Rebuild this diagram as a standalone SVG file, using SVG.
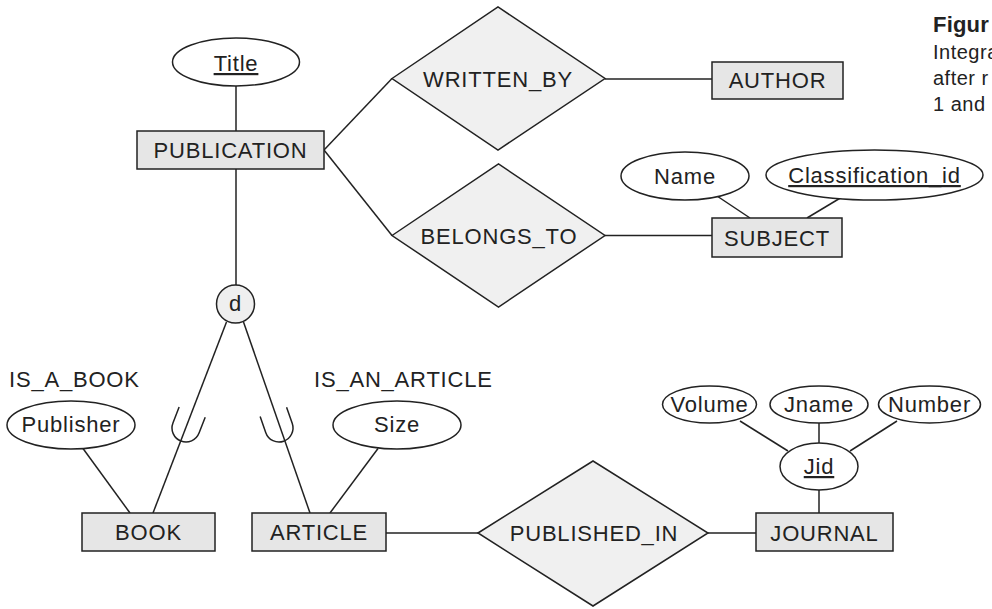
<svg xmlns="http://www.w3.org/2000/svg" width="992" height="609" viewBox="0 0 992 609">
<style>
text{font-family:"Liberation Sans",Arial,sans-serif;font-size:22px;fill:#222;letter-spacing:0.8px}
.c{text-anchor:middle}
.u{text-decoration:underline}
.ent{fill:#e6e6e6;stroke:#222;stroke-width:1.5}
.rel{fill:#f0f0f0;stroke:#222;stroke-width:1.5}
.att{fill:#fff;stroke:#222;stroke-width:1.5}
.ln{stroke:#222;stroke-width:1.5;fill:none}
.cap{font-size:20px;letter-spacing:0.5px}
</style>
<defs>
<path id="subset" d="M -14,-17 L -14,0 A 14 14 0 0 0 14 0 L 14,-17" class="ln"/>
</defs>
<g id="connectors">
<line class="ln" x1="236" y1="86" x2="236" y2="131"/>
<line class="ln" x1="236" y1="169" x2="236" y2="285"/>
<line class="ln" x1="324" y1="150" x2="392" y2="78.5"/>
<line class="ln" x1="324" y1="150" x2="392" y2="235.5"/>
<line class="ln" x1="605" y1="79" x2="712" y2="79"/>
<line class="ln" x1="605" y1="235.5" x2="712" y2="235.5"/>
<line class="ln" x1="717" y1="196" x2="750" y2="218"/>
<line class="ln" x1="842" y1="197" x2="807" y2="218"/>
<line class="ln" x1="226.5" y1="322" x2="153" y2="513"/>
<line class="ln" x1="243.5" y1="322" x2="310" y2="513"/>
<line class="ln" x1="83" y1="448.5" x2="130" y2="513"/>
<line class="ln" x1="378" y1="448.5" x2="330" y2="513"/>
<line class="ln" x1="386" y1="533" x2="478" y2="533"/>
<line class="ln" x1="708" y1="533" x2="756" y2="533"/>
<line class="ln" x1="740" y1="421" x2="788" y2="451"/>
<line class="ln" x1="897" y1="421" x2="850" y2="451"/>
<line class="ln" x1="819" y1="423" x2="819" y2="443"/>
<line class="ln" x1="819" y1="490" x2="819" y2="513"/>
<use href="#subset" transform="translate(186,428) rotate(21.3)"/>
<use href="#subset" transform="translate(279,428) rotate(-19.4)"/>
</g>
<g id="Title"><ellipse class="att" cx="236" cy="62" rx="63.5" ry="24"/><text class="c u" x="236" y="71">Title</text></g>
<g id="PUBLICATION"><rect class="ent" x="137" y="131" width="187" height="38"/><text class="c" x="230.5" y="158">PUBLICATION</text></g>
<g id="WRITTEN_BY"><polygon class="rel" points="392,78.5 498,7 605,78.5 498,150"/><text class="c" x="498" y="87">WRITTEN_BY</text></g>
<g id="AUTHOR"><rect class="ent" x="712" y="62" width="131" height="37"/><text class="c" x="777.5" y="88">AUTHOR</text></g>
<g id="BELONGS_TO"><polygon class="rel" points="392,235.5 498.5,164 605,235.5 498.5,307"/><text class="c" x="499" y="244">BELONGS_TO</text></g>
<g id="SUBJECT"><rect class="ent" x="712" y="218" width="130" height="39"/><text class="c" x="777" y="246">SUBJECT</text></g>
<g id="Name"><ellipse class="att" cx="685" cy="176" rx="64" ry="24"/><text class="c" x="685" y="184">Name</text></g>
<g id="Classification_id"><ellipse class="att" cx="874.5" cy="175" rx="108.5" ry="25"/><text class="c u" x="874.5" y="183">Classification_id</text></g>
<g id="d"><circle cx="235.5" cy="304" r="19" fill="#efefef" stroke="#222" stroke-width="1.5"/><text class="c" x="235.5" y="311">d</text></g>
<g id="IS_A_BOOK"><text x="9" y="387">IS_A_BOOK</text></g>
<g id="IS_AN_ARTICLE"><text x="314" y="387">IS_AN_ARTICLE</text></g>
<g id="Publisher"><ellipse class="att" cx="71" cy="425" rx="64" ry="24"/><text class="c" x="71" y="432">Publisher</text></g>
<g id="Size"><ellipse class="att" cx="397" cy="425" rx="64" ry="24"/><text class="c" x="397" y="432">Size</text></g>
<g id="BOOK"><rect class="ent" x="82" y="513" width="133" height="38"/><text class="c" x="148.5" y="540">BOOK</text></g>
<g id="ARTICLE"><rect class="ent" x="252" y="513" width="134" height="38"/><text class="c" x="319" y="540">ARTICLE</text></g>
<g id="PUBLISHED_IN"><polygon class="rel" points="478,533 593,461 708,533 593,606"/><text class="c" x="594" y="541">PUBLISHED_IN</text></g>
<g id="JOURNAL"><rect class="ent" x="756" y="513" width="137" height="38"/><text class="c" x="824.5" y="541">JOURNAL</text></g>
<g id="Jid"><ellipse class="att" cx="819" cy="466.5" rx="39" ry="23.5"/><text class="c u" x="819" y="474">Jid</text></g>
<g id="Volume"><ellipse class="att" cx="709.5" cy="404.5" rx="47" ry="18.5"/><text class="c" x="709.5" y="412">Volume</text></g>
<g id="Jname"><ellipse class="att" cx="819" cy="404.5" rx="49" ry="18.5"/><text class="c" x="819" y="412">Jname</text></g>
<g id="Number"><ellipse class="att" cx="929.5" cy="404.5" rx="51" ry="18.5"/><text class="c" x="929.5" y="412">Number</text></g>
<g id="caption">
<text class="cap" x="933" y="32" font-weight="bold" style="font-size:22px;letter-spacing:0.2px">Figur</text>
<text class="cap" x="933" y="59">Integra</text>
<text class="cap" x="933" y="85">after r</text>
<text class="cap" x="933" y="111">1 and</text>
</g>
</svg>
